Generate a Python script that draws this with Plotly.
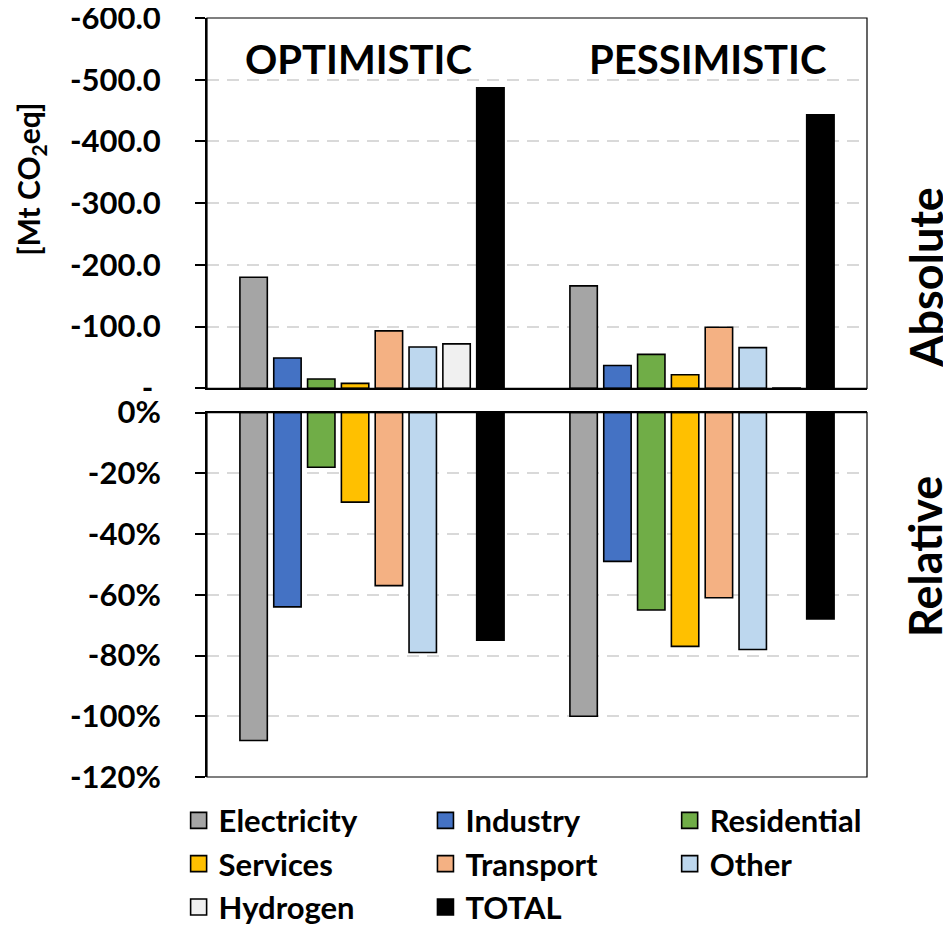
import plotly.graph_objects as go
from plotly.subplots import make_subplots

scenarios = ["OPTIMISTIC", "PESSIMISTIC"]
sectors = ["Electricity", "Industry", "Residential", "Services", "Transport", "Other", "Hydrogen", "TOTAL"]
colors = ["#A5A5A5", "#4472C4", "#70AD47", "#FFC000", "#F4B183", "#BDD7EE", "#F0F0F0", "#000000"]
legend_column = ["legend", "legend2", "legend3", "legend", "legend2", "legend3", "legend", "legend2"]

# Absolute change [Mt CO2eq] (optimistic, pessimistic)
abs_electricity = [-180, -166]
abs_industry = [-49, -37]
abs_residential = [-15, -55]
abs_services = [-8, -22]
abs_transport = [-93, -99]
abs_other = [-67, -66]
abs_hydrogen = [-72, -0.6]
abs_total = [-487, -443]

# Relative change [%]
rel_electricity = [-108, -100]
rel_industry = [-64, -49]
rel_residential = [-18, -65]
rel_services = [-29.5, -77]
rel_transport = [-57, -61]
rel_other = [-79, -78]
rel_hydrogen = [None, None]
rel_total = [-75, -68]

abs_tickvals = [0, -100, -200, -300, -400, -500, -600]
abs_ticktext = ["-\u00a0", "-100.0", "-200.0", "-300.0", "-400.0", "-500.0", "-600.0"]
rel_tickvals = [0, -20, -40, -60, -80, -100, -120]
rel_ticktext = ["0%", "-20%", "-40%", "-60%", "-80%", "-100%", "-120%"]

abs_values = [abs_electricity, abs_industry, abs_residential, abs_services,
              abs_transport, abs_other, abs_hydrogen, abs_total]
rel_values = [rel_electricity, rel_industry, rel_residential, rel_services,
              rel_transport, rel_other, rel_hydrogen, rel_total]

FONT = "Lato"
fig = make_subplots(rows=2, cols=1, shared_xaxes=False, vertical_spacing=0.0)

for name, col, av, rv, lg in zip(sectors, colors, abs_values, rel_values, legend_column):
    fig.add_trace(go.Bar(x=scenarios, y=av, name=name, marker_color=col,
                         marker_line=dict(color="#000000", width=1.6),
                         showlegend=False, legendgroup=name), row=1, col=1)
    fig.add_trace(go.Bar(x=scenarios, y=rv, name=name, marker_color=col,
                         marker_line=dict(color="#000000", width=1.6),
                         showlegend=False, legendgroup=name), row=2, col=1)
    # legend proxy
    fig.add_trace(go.Scatter(x=[None], y=[None], mode="markers", name=name,
                             marker=dict(symbol="square", size=16, color=col,
                                         line=dict(color="#000000", width=1.6)),
                             legendgroup=name, showlegend=True, legend=lg), row=1, col=1)

leg_common = dict(orientation="v", yanchor="top", xanchor="left", y=-0.022,
                  itemsizing="trace", tracegroupgap=0, itemwidth=30,
                  bgcolor="rgba(0,0,0,0)",
                  font=dict(family=FONT, size=31, color="#000000", weight="bold"))
fig.update_layout(
    width=943, height=918,
    margin=dict(l=199, r=84, t=10, b=149, autoexpand=False),
    paper_bgcolor="white", plot_bgcolor="white",
    barmode="group", bargap=0.18, bargroupgap=0.19,
    font=dict(family=FONT, size=31, color="#000000", weight="bold"),
    legend=dict(x=-0.043, **leg_common),
    legend2=dict(x=0.331, **leg_common),
    legend3=dict(x=0.701, **leg_common),
)

grid = dict(showgrid=True, gridcolor="#D9D9D9", gridwidth=1.5, griddash="12px,8px")
fig.update_yaxes(row=1, col=1, domain=[0.5121, 1.0], range=[0, -600],
                 tickvals=abs_tickvals, ticktext=abs_ticktext,
                 showline=True, linecolor="#000000", linewidth=2,
                 ticks="outside", ticklen=10, tickwidth=1.5, tickcolor="#000000",
                 ticklabelstandoff=28, ticklabeloverflow="allow", zeroline=False, **grid)
fig.update_yaxes(row=2, col=1, domain=[0.0, 0.4802], range=[-120, 0],
                 tickvals=rel_tickvals, ticktext=rel_ticktext,
                 showline=True, linecolor="#000000", linewidth=2,
                 ticks="outside", ticklen=10, tickwidth=1.5, tickcolor="#000000",
                 ticklabelstandoff=28, ticklabeloverflow="allow", zeroline=False, **grid)
fig.update_xaxes(row=1, col=1, showticklabels=False, showline=True, linecolor="#000000",
                 linewidth=2, ticks="", showgrid=False, zeroline=False)
fig.update_xaxes(row=2, col=1, showticklabels=False, showline=True, linecolor="#000000",
                 linewidth=2, ticks="", showgrid=False, zeroline=False, side="top")

# plot-area frames
for xr, yr in [("x domain", "y domain"), ("x2 domain", "y2 domain")]:
    fig.add_shape(type="rect", xref=xr, yref=yr, x0=0, x1=1, y0=0, y1=1,
                  line=dict(color="#000000", width=1.2), fillcolor="rgba(0,0,0,0)", layer="above")

ann_font = dict(family=FONT, size=40, color="#000000", weight="bold")
fig.add_annotation(text="OPTIMISTIC", xref="paper", yref="paper", x=0.2288, y=0.946,
                   xanchor="center", yanchor="middle", showarrow=False, font=ann_font)
fig.add_annotation(text="PESSIMISTIC", xref="paper", yref="paper", x=0.759, y=0.946,
                   xanchor="center", yanchor="middle", showarrow=False, font=ann_font)
side_font = dict(family=FONT, size=45, color="#000000", weight="bold")
fig.add_annotation(text="Absolute", xref="paper", yref="paper", x=1.088, y=0.658,
                   xanchor="center", yanchor="middle", textangle=-90, showarrow=False, font=side_font)
fig.add_annotation(text="Relative", xref="paper", yref="paper", x=1.088, y=0.290,
                   xanchor="center", yanchor="middle", textangle=-90, showarrow=False, font=side_font)
fig.add_annotation(text="[Mt CO<sub>2</sub>eq]", xref="paper", yref="paper", x=-0.268, y=0.787,
                   xanchor="center", yanchor="middle", textangle=-90, showarrow=False,
                   font=dict(family=FONT, size=30, color="#000000", weight="bold"))

fig.write_html("out.html")
